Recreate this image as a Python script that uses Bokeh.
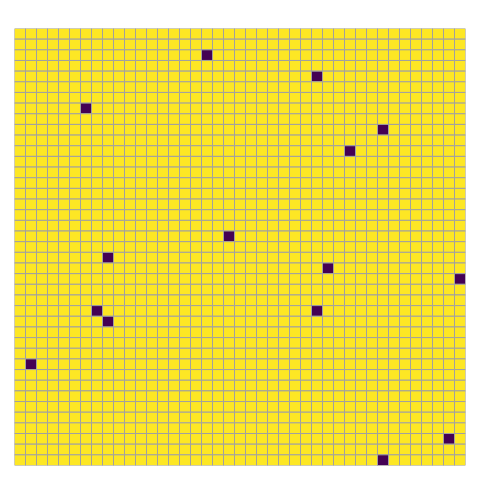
import numpy as np
from bokeh.plotting import figure
from bokeh.models import ColumnDataSource, Range1d, LinearColorMapper
from bokeh.palettes import Viridis256
from bokeh.embed import file_html
from bokeh.resources import INLINE

n_rows = 41
n_cols = 41
# cells with value 0 (dark); all others are 1
dark_cols = [17, 27, 6, 33, 30, 19, 8, 28, 40, 7, 27, 8, 1, 39, 33]
dark_rows = [2, 4, 7, 9, 11, 19, 21, 22, 23, 26, 26, 27, 31, 38, 40]

grid = np.ones((n_rows, n_cols))
for c, r in zip(dark_cols, dark_rows):
    grid[r, c] = 0

cols, rows = np.meshgrid(np.arange(n_cols), np.arange(n_rows))
src = ColumnDataSource(dict(
    left=cols.ravel(), right=cols.ravel() + 1,
    top=rows.ravel(), bottom=rows.ravel() + 1,
    val=grid.ravel(),
))

mapper = LinearColorMapper(palette=Viridis256, low=0, high=1)

p = figure(width=472, height=472, output_backend="svg", toolbar_location=None,
           x_range=Range1d(0, n_cols), y_range=Range1d(n_rows, 0),
           min_border_left=14, min_border_right=7, min_border_top=28, min_border_bottom=7)
p.quad(left="left", right="right", top="top", bottom="bottom", source=src,
       fill_color={"field": "val", "transform": mapper},
       line_color="#a0a0a0", line_width=1)
p.axis.visible = False
p.grid.visible = False
p.outline_line_color = None
p.background_fill_color = "white"

open("out.html", "w").write(file_html(p, INLINE))
